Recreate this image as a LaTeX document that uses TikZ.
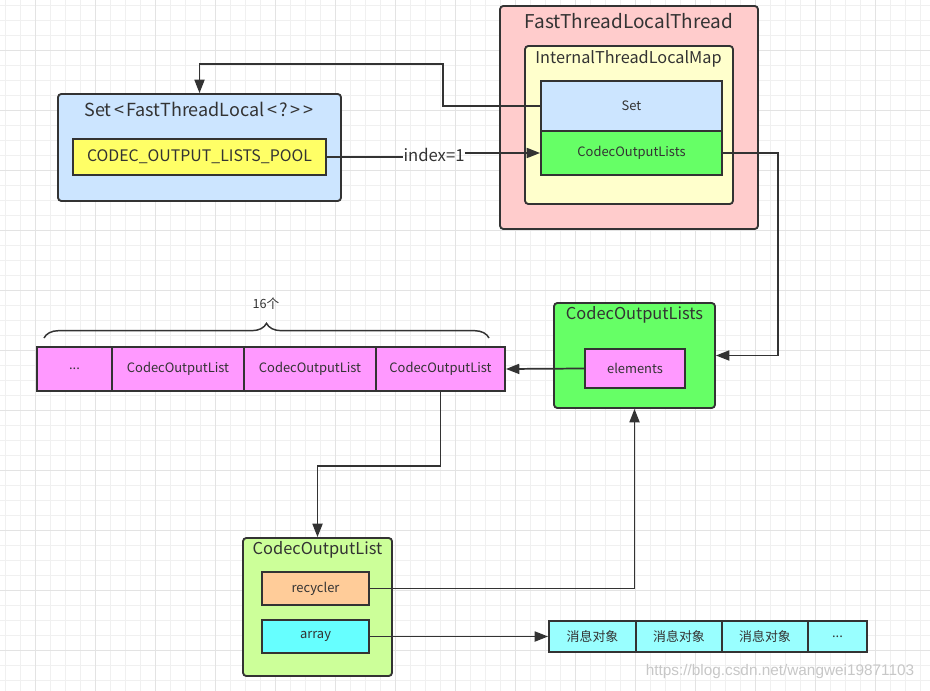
\documentclass[tikz,border=0pt]{standalone}
\usepackage{fontspec}
\setmainfont{Noto Sans CJK SC}
\newfontfamily\wmfont{Liberation Sans}
\usepackage{xcolor}
\usepackage{tikz}
\usetikzlibrary{arrows.meta,decorations.pathreplacing}
\definecolor{lineg}{HTML}{333333}
\definecolor{setblue}{HTML}{CCE5FF}
\definecolor{poolyellow}{HTML}{FFFF66}
\definecolor{threadpink}{HTML}{FFCCCC}
\definecolor{mapyellow}{HTML}{FFFFCC}
\definecolor{listsgreen}{HTML}{66FF66}
\definecolor{elemviolet}{HTML}{FF99FF}
\definecolor{listgreen}{HTML}{CCFF99}
\definecolor{recorange}{HTML}{FFCC99}
\definecolor{arraycyan}{HTML}{66FFFF}
\definecolor{msgcyan}{HTML}{99FFFF}

\begin{document}
\begin{tikzpicture}[x=0.75pt, y=-0.75pt,
    box/.style={draw=lineg, line width=1.4pt, rounded corners=2.5pt, inner sep=0pt},
    cell/.style={draw=lineg, line width=1.4pt, inner sep=0pt, text=lineg,
        font=\fontsize{9.7}{11}\selectfont},
    title/.style={text=lineg, inner sep=0pt},
    conn/.style={draw=lineg, line width=1.3pt, -{Triangle[length=10pt,width=7.5pt]}},
    wire/.style={draw=lineg, line width=1.3pt},
    gridminor/.style={draw=black!6, line width=0.6pt},
    gridmajor/.style={draw=black!11, line width=0.6pt}]
    \useasboundingbox (0,0) rectangle (930,691);
    \fill[white] (0,0) rectangle (930,691);
    \foreach \x in {5,20,...,925} \draw[gridminor] (\x,0) -- (\x,691);
    \foreach \y in {5,20,...,690} \draw[gridminor] (0,\y) -- (930,\y);
    \foreach \x in {35,95,...,905} \draw[gridmajor] (\x,0) -- (\x,691);
    \foreach \y in {50,110,...,650} \draw[gridmajor] (0,\y) -- (930,\y);

    \node[box, fill=setblue, minimum width=212.25pt, minimum height=80.25pt] (setb) at (199.5,147.5) {};
    \node[title, font=\fontsize{13.5}{16}\selectfont] (setbt) at (199,109)
        {Set\kern2pt<\kern1.5pt FastThreadLocal\kern2pt<\kern2pt?\kern2pt>\kern2pt>};
    \node[cell, fill=poolyellow, minimum width=189.75pt, minimum height=27pt,
        font=\fontsize{11.9}{14}\selectfont] (pool) at (199.5,157) {CODEC\_OUTPUT\_LISTS\_POOL};

    \node[box, fill=threadpink, minimum width=193.5pt, minimum height=167.25pt] (fitt) at (629,117.5) {};
    \node[title, font=\fontsize{14.25}{17}\selectfont] (fittt) at (629,21) {FastThreadLocalThread};
    \node[box, fill=mapyellow, minimum width=156pt, minimum height=118.5pt] (map) at (629,125) {};
    \node[title, font=\fontsize{12.2}{14}\selectfont] (mapt) at (628.5,59) {InternalThreadLocalMap};
    \node[cell, fill=setblue, minimum width=135.75pt, minimum height=37.5pt] (setc) at (631.5,106) {Set};
    \node[cell, fill=listsgreen, minimum width=135.75pt, minimum height=33pt] (lists) at (631.5,153) {CodecOutputLists};

    \node[title, font=\fontsize{12.5}{15}\selectfont] (idx) at (434,155) {index=1};

    \node[box, fill=listsgreen, minimum width=120.75pt, minimum height=78.75pt] (clists) at (634.5,355.5) {};
    \node[title, font=\fontsize{12.3}{15}\selectfont] (clistst) at (634.5,315) {CodecOutputLists};
    \node[cell, fill=elemviolet, minimum width=75pt, minimum height=29.25pt] (elem) at (635,368.5) {elements};

    \node[cell, fill=elemviolet, minimum width=56.25pt, minimum height=33pt] (a0) at (74.5,369) {...};
    \node[cell, fill=elemviolet, minimum width=99pt, minimum height=33pt] (a1) at (178,369) {CodecOutputList};
    \node[cell, fill=elemviolet, minimum width=99pt, minimum height=33pt] (a2) at (310,369) {CodecOutputList};
    \node[cell, fill=elemviolet, minimum width=96.75pt, minimum height=33pt] (a3) at (440.5,369) {CodecOutputList};

    \coordinate (bl) at (44,338);
    \coordinate (br) at (489,338);
    \draw[draw=lineg, line width=1.1pt, decorate, decoration={brace, amplitude=11pt}] (bl) -- (br);
    \node[title, font=\fontsize{9.5}{11}\selectfont] (cnt) at (266,304) {16个};

    \node[box, fill=listgreen, minimum width=111.75pt, minimum height=103.5pt] (clist) at (317.5,607) {};
    \node[title, font=\fontsize{12.3}{15}\selectfont] (clistt) at (317.5,550) {CodecOutputList};
    \node[cell, fill=recorange, minimum width=80.25pt, minimum height=24.75pt] (rec) at (315.5,588.5) {recycler};
    \node[cell, fill=arraycyan, minimum width=80.25pt, minimum height=24.75pt] (arr) at (315.5,636.5) {array};

    \node[cell, fill=msgcyan, minimum width=65.25pt, minimum height=23.25pt] (m0) at (592.5,636.5) {消息对象};
    \node[cell, fill=msgcyan, minimum width=64.5pt, minimum height=23.25pt] (m1) at (679,636.5) {消息对象};
    \node[cell, fill=msgcyan, minimum width=64.5pt, minimum height=23.25pt] (m2) at (765,636.5) {消息对象};
    \node[cell, fill=msgcyan, minimum width=44.25pt, minimum height=23.25pt] (m3) at (837.5,636.5) {...};

    \coordinate (bendA) at (443,64);
    \coordinate (bendB) at (778,355.5);
    \draw[conn] (setc.west) -| (bendA) -| (setb.north);
    \draw[wire] (pool.east) -- (pool.east -| idx.west);
    \draw[conn] (lists.west -| idx.east) -- (lists.west);
    \draw[conn] (lists.east) -| (bendB) -- (clists.east);
    \draw[conn] (elem.west) -- (a3.east);
    \draw[conn] (a3.south) -- ++(0,74) -| (clist.north);
    \draw[conn] (rec.east) -| (clists.south);
    \draw[conn] (arr.east) -- (m0.west);

    \node[text=black!22, inner sep=0pt, font=\fontsize{11.5}{13}\selectfont\wmfont] (wm) at (780,672) {https://blog.csdn.net/wangwei19871103};
\end{tikzpicture}
\end{document}
